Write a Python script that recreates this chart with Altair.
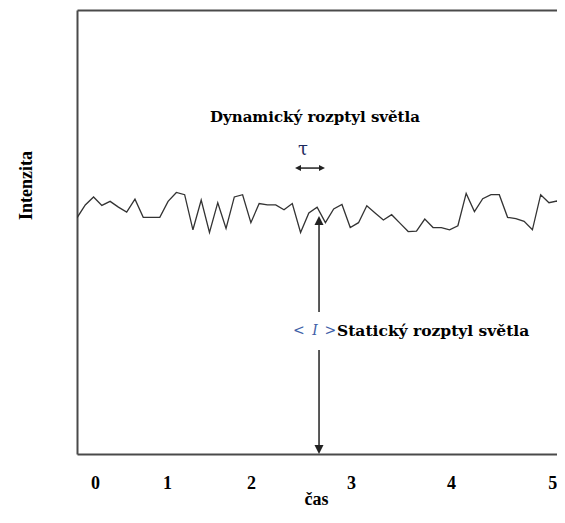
import altair as alt
import pandas as pd

# ---- data -----------------------------------------------------------------
# intensity samples, one per time step
intensity = [53.2, 56.1, 57.9, 56.0, 56.9, 55.6, 54.5, 57.4, 53.3, 53.3,
             53.3, 56.9, 58.9, 58.4, 50.5, 57.2, 49.9, 56.6, 50.8, 57.9,
             58.4, 52.1, 56.4, 56.1, 56.1, 55.0, 56.4, 49.9, 54.3, 55.6,
             52.1, 55.2, 56.2, 51.0, 52.1, 55.9, 54.3, 52.7, 53.9, 52.0,
             50.1, 50.2, 52.9, 51.0, 51.0, 50.5, 51.4, 58.7, 54.6, 57.5,
             58.4, 58.4, 53.3, 53.0, 52.4, 50.5, 58.4, 56.6, 57.0, 51.6]
time_steps = list(range(len(intensity)))

# where the (unevenly spaced) time labels sit, in time-step units
tick_values = [2.17, 10.87, 21.01, 33.09, 45.17, 57.4]
tick_labels = ["0", "1", "2", "3", "4", "5"]

X_MAX = 57.97
Y_MAX = 100

# ---- tables -----------------------------------------------------------------
signal = pd.DataFrame({"t": time_steps, "v": intensity})

# label expression built from the tick lists
expr = "''"
for i in range(len(tick_values) - 1, -1, -1):
    expr = f"abs(datum.value - {tick_values[i]}) < 0.5 ? '{tick_labels[i]}' : ({expr})"

xs = alt.Scale(domain=[0, X_MAX], nice=False, zero=False)
ys = alt.Scale(domain=[0, Y_MAX], nice=False, zero=False)

DOMAIN_COLOR = "#4a4a4a"

bottom_axis = alt.Axis(
    values=tick_values, labelExpr=expr, ticks=False, tickSize=0, grid=False,
    domain=True, domainColor=DOMAIN_COLOR, domainWidth=2,
    labelFont="Liberation Serif", labelFontWeight="bold", labelFontSize=18,
    labelColor="black", labelPadding=20, labelFlush=False,
    title="čas", titleFont="Liberation Serif", titleFontWeight="bold",
    titleFontSize=18, titleColor="black", titleX=239, titleY=50,
    titleAlign="center", titleBaseline="alphabetic",
)
top_axis = alt.Axis(
    orient="top", labels=False, ticks=False, grid=False, title=None,
    domain=True, domainColor=DOMAIN_COLOR, domainWidth=2,
)
left_axis = alt.Axis(
    orient="left", labels=False, ticks=False, grid=False, domain=True,
    domainColor=DOMAIN_COLOR, domainWidth=2,
    title="Intenzita", titleFont="Liberation Serif", titleFontWeight="bold",
    titleFontSize=18, titleColor="black", titleAngle=270,
    titleX=-46, titleY=175, titleAlign="center", titleBaseline="alphabetic",
)

line = alt.Chart(signal).mark_line(color="#333333", strokeWidth=1.3, clip=True).encode(
    x=alt.X("t:Q", scale=xs, axis=bottom_axis),
    y=alt.Y("v:Q", scale=ys, axis=left_axis),
)

# annotations (positions in data units)
dyn = pd.DataFrame({"x": [28.74], "y": [75.9], "label": ["Dynamický rozptyl světla"]})
dyn_text = alt.Chart(dyn).mark_text(
    font="DejaVu Serif", fontWeight="bold", fontSize=15, color="black",
    align="center", baseline="middle",
).encode(x=alt.X("x:Q", scale=xs, axis=top_axis), y=alt.Y("y:Q", scale=ys, axis=None),
         text="label:N")

tau = pd.DataFrame({"x": [27.29], "y": [68.5], "label": ["τ"]})
tau_text = alt.Chart(tau).mark_text(
    font="DejaVu Serif", fontSize=18, color="#1c2a5e", align="center", baseline="middle",
).encode(x=alt.X("x:Q", scale=xs, axis=None), y=alt.Y("y:Q", scale=ys, axis=None),
         text="label:N")

stat = pd.DataFrame({"x": [31.4], "y": [27.7], "label": ["Statický rozptyl světla"]})
stat_text = alt.Chart(stat).mark_text(
    font="DejaVu Serif", fontWeight="bold", fontSize=15.5, color="black",
    align="left", baseline="middle",
).encode(x=alt.X("x:Q", scale=xs, axis=None), y=alt.Y("y:Q", scale=ys, axis=None),
         text="label:N")

brackets = pd.DataFrame({"x": [26.8, 30.6], "y": [27.7, 27.7], "label": ["<", ">"]})
brackets_text = alt.Chart(brackets).mark_text(
    font="DejaVu Serif", fontSize=14, color="#3f5fa8", align="center", baseline="middle",
).encode(x=alt.X("x:Q", scale=xs, axis=None), y=alt.Y("y:Q", scale=ys, axis=None),
         text="label:N")

ivar = pd.DataFrame({"x": [28.75], "y": [27.7], "label": ["I"]})
ivar_text = alt.Chart(ivar).mark_text(
    font="DejaVu Serif", fontSize=14, fontStyle="italic", color="#3f5fa8",
    align="center", baseline="middle",
).encode(x=alt.X("x:Q", scale=xs, axis=None), y=alt.Y("y:Q", scale=ys, axis=None),
         text="label:N")

# arrow shafts
shafts = pd.DataFrame({
    "x": [29.23, 29.23, 26.6], "x2": [29.23, 29.23, 29.7],
    "y": [32.0, 23.4, 64.4], "y2": [52.0, 1.5, 64.4],
})
shaft_rules = alt.Chart(shafts).mark_rule(color="#222222", strokeWidth=1.5).encode(
    x=alt.X("x:Q", scale=xs, axis=None), x2="x2:Q",
    y=alt.Y("y:Q", scale=ys, axis=None), y2="y2:Q",
)

# arrow heads (tip at the point)
heads = pd.DataFrame({
    "x": [29.23, 29.23, 26.33, 29.95],
    "y": [53.6, 0.0, 64.4, 64.4],
    "kind": ["up", "down", "left", "right"],
    "s": [324, 324, 144, 144],
})
head_points = alt.Chart(heads).mark_point(filled=True, opacity=1, color="#222222", strokeWidth=0).encode(
    x=alt.X("x:Q", scale=xs, axis=None),
    y=alt.Y("y:Q", scale=ys, axis=None),
    shape=alt.Shape("kind:N", legend=None, scale=alt.Scale(
        domain=["up", "down", "left", "right"],
        range=["M0,0L0.5,1L-0.5,1Z", "M0,0L0.5,-1L-0.5,-1Z",
               "M0,0L1,-0.5L1,0.5Z", "M0,0L-1,-0.5L-1,0.5Z"])),
    size=alt.Size("s:Q", scale=None, legend=None),
)

chart = alt.layer(
    line, dyn_text, tau_text, stat_text, brackets_text, ivar_text, shaft_rules, head_points
).resolve_axis(x="independent", y="independent").properties(
    width=480, height=444,
    padding={"left": 69, "top": 2, "right": 0, "bottom": 57},
    autosize=alt.AutoSizeParams(type="none"),
    background="white",
).configure_view(stroke=None)

chart.save("out.html", embed_options={"renderer": "svg", "actions": False})
